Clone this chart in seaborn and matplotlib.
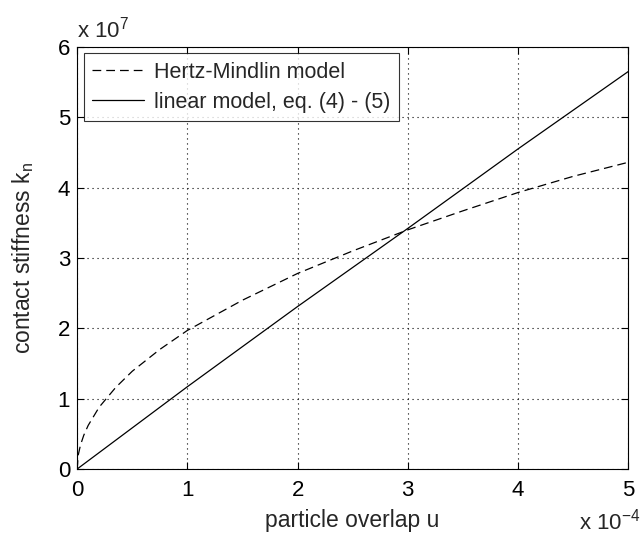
import matplotlib
matplotlib.use("Agg")
import matplotlib.pyplot as plt
import seaborn as sns
import pandas as pd

# particle overlap u (x 1e-4) and contact stiffness (x 1e7)
hm_u = [0, 0.01, 0.03, 0.06, 0.1, 0.2, 0.35, 0.5, 0.75, 1, 1.5, 2, 2.5, 3, 3.5, 4, 4.5, 5]
hm_k = [0, 0.2, 0.34, 0.48, 0.62, 0.88, 1.16, 1.39, 1.70, 1.97, 2.40, 2.78, 3.10, 3.40, 3.67, 3.93, 4.16, 4.36]
lin_u = [0, 1, 2, 3, 4, 5]
lin_k = [0, 1.17, 2.31, 3.42, 4.55, 5.65]
series_names = ["Hertz-Mindlin model", "linear model, eq. (4) - (5)"]
x_ticks = [0, 1, 2, 3, 4, 5]
y_ticks = [0, 1, 2, 3, 4, 5, 6]

sns.set_style("white")
plt.rcParams["font.family"] = ["Liberation Sans", "DejaVu Sans"]
plt.rcParams["mathtext.fontset"] = "custom"
plt.rcParams["mathtext.rm"] = "Liberation Sans"
plt.rcParams["mathtext.it"] = "Liberation Sans"

FS_TICK = 16
FS_LAB = 16.5
FS_LEG = 15.5

df = pd.concat([
    pd.DataFrame({"u": hm_u, "k": hm_k, "model": series_names[0]}),
    pd.DataFrame({"u": lin_u, "k": lin_k, "model": series_names[1]}),
])

fig = plt.figure(figsize=(6.43, 5.37), dpi=100)
ax = fig.add_axes([0.12, 0.1266, 0.857, 0.786])

sns.lineplot(data=df, x="u", y="k", hue="model", style="model",
             palette=["black", "black"],
             dashes={series_names[0]: (7, 4), series_names[1]: ""},
             linewidth=0.9, ax=ax, sort=False, estimator=None)

ax.set_xlim(0, 5)
ax.set_ylim(0, 6)
ax.set_xticks(x_ticks)
ax.set_yticks(y_ticks)
ax.set_xticklabels([str(t) for t in x_ticks], fontsize=FS_TICK)
ax.set_yticklabels([str(t) for t in y_ticks], fontsize=FS_TICK)
ax.tick_params(direction="in", length=5, width=0.8, top=True, right=True,
               bottom=True, left=True, colors="black")
ax.tick_params(axis="x", pad=8)
ax.tick_params(axis="y", pad=5)
ax.grid(True, linestyle=(0, (1, 3.5)), color="black", linewidth=0.8)
for s in ax.spines.values():
    s.set_color("black")
    s.set_linewidth(0.8)

ax.set_xlabel("particle overlap u", fontsize=FS_LAB)
ax.set_ylabel(r"contact stiffness k$_\mathregular{n}$", fontsize=FS_LAB)
ax.xaxis.set_label_coords(0.5, -0.095)
ax.yaxis.set_label_coords(-0.075, 0.5)

ax.text(0.0, 1.01, r"x 10$^\mathregular{7}$", transform=ax.transAxes,
        fontsize=FS_TICK, ha="left", va="bottom")
ax.text(1.022, -0.125, r"x 10$^\mathregular{-4}$", transform=ax.transAxes,
        fontsize=FS_TICK, ha="right", va="center")

leg = ax.legend(loc="upper left", fontsize=FS_LEG, frameon=True, fancybox=False,
                edgecolor="black", handlelength=2.4, borderaxespad=0.3,
                handletextpad=0.45, labelspacing=0.4, borderpad=0.4)
leg.get_frame().set_linewidth(0.8)
leg.set_title(None)

fig.savefig("out.png", dpi=100, facecolor="white")
